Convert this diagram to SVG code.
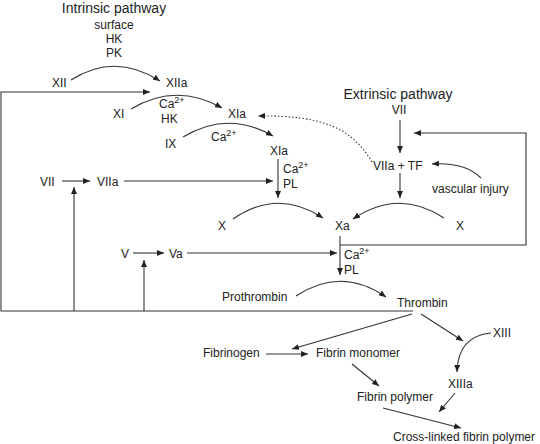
<svg xmlns="http://www.w3.org/2000/svg" width="540" height="444" viewBox="0 0 540 444">
<style>
text{font-family:"Liberation Sans",Arial,sans-serif;font-size:12px;fill:#222}
.t{font-size:14px}
.m{text-anchor:middle}
.ln{fill:none;stroke:#333;stroke-width:1.1}
.a{marker-end:url(#ah)}
.d{stroke-dasharray:1.5 2}
.sup{font-size:9px}
</style>
<defs>
<marker id="ah" markerUnits="userSpaceOnUse" markerWidth="7" markerHeight="6" refX="7" refY="3" orient="auto">
<path d="M0,0 L7,3 L0,6 z" fill="#222"/>
</marker>
</defs>
<rect width="540" height="444" fill="#fff"/>
<g id="connectors">
<path class="ln a" d="M71,80 Q115,52 160,81"/>
<path class="ln a" d="M131,109 Q176,82 222,108"/>
<path class="ln a" d="M183,137 Q228,110 273,136"/>
<path class="ln a d" d="M372,162 C352,128 322,115 258,116"/>
<path class="ln a" d="M233,219 Q278,188 323,218"/>
<path class="ln a" d="M444,218 Q399,188 353,219"/>
<path class="ln a" d="M296,296 Q341,266 386,297"/>
<path class="ln a" d="M481,178 Q465,162 432,164"/>
<path class="ln a" d="M491,333 Q458,336 457,372"/>
<path class="ln a" d="M413,311 H1 V92 H150"/>
<path class="ln a" d="M74,311 V187"/>
<path class="ln a" d="M144,311 V260"/>
<path class="ln a" d="M62,181 H90"/>
<path class="ln a" d="M124,181 H273"/>
<path class="ln a" d="M133,253 H164"/>
<path class="ln a" d="M187,253 H337"/>
<path class="ln a" d="M278,159 V198"/>
<path class="ln a" d="M340,236 V275"/>
<path class="ln a" d="M340,245 H526 V133 H414"/>
<path class="ln a" d="M400,120 V153"/>
<path class="ln a" d="M400,173 V198"/>
<path class="ln a" d="M412,314 L292,349"/>
<path class="ln a" d="M421,314 L463,341"/>
<path class="ln a" d="M266,354 H308"/>
<path class="ln a" d="M352,364 L379,386"/>
<path class="ln a" d="M455,393 L439,412"/>
<path class="ln a" d="M383,408 L461,428"/>
</g>
<g id="intrinsic-title"><text class="t m" x="114" y="13">Intrinsic pathway</text></g>
<g id="cofactors-xii"><text class="m" x="114" y="29">surface</text><text class="m" x="114" y="43">HK</text><text class="m" x="114" y="57">PK</text></g>
<g id="XII"><text x="52" y="87">XII</text></g>
<g id="XIIa"><text x="166" y="87">XIIa</text></g>
<g id="XI"><text x="113" y="118">XI</text></g>
<g id="cofactors-xi"><text x="159" y="108">Ca<tspan class="sup" dy="-5">2+</tspan></text><text x="161" y="123">HK</text></g>
<g id="XIa-1"><text x="228" y="118">XIa</text></g>
<g id="IX"><text x="165" y="148">IX</text></g>
<g id="cofactors-ix"><text x="211" y="141">Ca<tspan class="sup" dy="-5">2+</tspan></text></g>
<g id="XIa-2"><text x="270" y="155">XIa</text></g>
<g id="cofactors-x1"><text x="283" y="173">Ca<tspan class="sup" dy="-5">2+</tspan></text><text x="283" y="188">PL</text></g>
<g id="extrinsic-title"><text class="t m" x="398" y="99">Extrinsic pathway</text></g>
<g id="VII-top"><text class="m" x="399" y="114">VII</text></g>
<g id="VIIa-TF"><text x="373" y="170">VIIa + TF</text></g>
<g id="vascular-injury"><text x="432" y="193">vascular injury</text></g>
<g id="VII-left"><text x="40" y="186">VII</text></g>
<g id="VIIa-left"><text x="97" y="186">VIIa</text></g>
<g id="X-left"><text x="218" y="230">X</text></g>
<g id="Xa"><text x="335" y="230">Xa</text></g>
<g id="X-right"><text x="456" y="230">X</text></g>
<g id="V"><text x="121" y="258">V</text></g>
<g id="Va"><text x="169" y="258">Va</text></g>
<g id="cofactors-xa"><text x="344" y="259">Ca<tspan class="sup" dy="-5">2+</tspan></text><text x="344" y="274">PL</text></g>
<g id="prothrombin"><text x="222" y="301">Prothrombin</text></g>
<g id="thrombin"><text x="397" y="307">Thrombin</text></g>
<g id="XIII"><text x="493" y="337">XIII</text></g>
<g id="fibrinogen"><text x="203" y="357">Fibrinogen</text></g>
<g id="fibrin-monomer"><text x="316" y="357">Fibrin monomer</text></g>
<g id="XIIIa"><text x="448" y="388">XIIIa</text></g>
<g id="fibrin-polymer"><text x="357" y="401">Fibrin polymer</text></g>
<g id="cross-linked"><text x="393" y="441">Cross-linked fibrin polymer</text></g>
</svg>
